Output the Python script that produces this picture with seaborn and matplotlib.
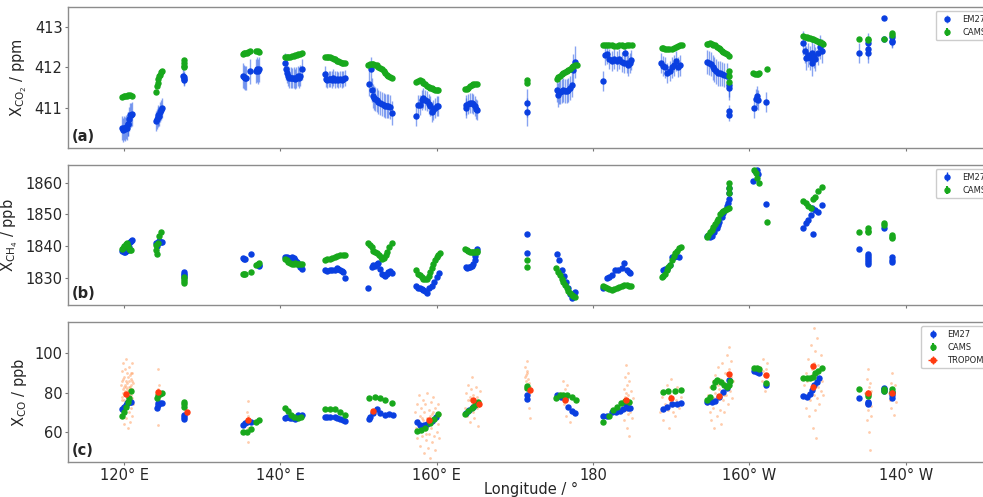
import matplotlib
matplotlib.use('Agg')
import matplotlib.pyplot as plt
import pandas as pd
import seaborn as sns

# ---------------- dati ----------------
# pannello (a) XCO2 [ppm]
co2_em27_lon = [119.75, 119.9, 120.05, 120.13, 120.25, 120.34, 120.45, 120.55, 120.66, 120.77, 120.9, 120.98,
                124.09, 124.18, 124.29, 124.39, 124.5, 124.61, 124.72, 124.84,
                127.6, 127.62, 127.64, 127.65,
                135.18, 135.3, 135.45, 135.6, 136.14, 136.89, 137.0, 137.1, 137.31,
                140.6, 140.7, 140.8, 140.95, 141.1, 141.3, 141.5, 141.7, 141.88, 142.05, 142.2, 142.4, 142.55, 142.73,
                145.7, 145.85, 146.0, 146.2, 146.35, 146.55, 146.75, 146.99, 147.2, 147.4, 147.63, 147.85, 148.05, 148.27,
                151.3, 151.55, 151.68, 151.8, 151.95, 152.11, 152.3, 152.53, 152.75, 152.96, 153.2, 153.39, 153.6, 153.81, 154.05, 154.24,
                157.4, 157.6, 157.86, 158.1, 158.29, 158.5, 158.72, 158.95, 159.14, 159.35, 159.57, 159.8, 160.0, 160.2,
                163.7, 163.8, 164.05, 164.3, 164.5, 164.7, 164.9, 165.0, 165.1,
                171.51, 171.51,
                175.35, 175.5, 175.65, 175.78, 176.0, 176.2, 176.45, 176.63, 176.85, 177.06, 177.3, 177.48, 177.7,
                181.32, 181.55, 181.75, 182.0, 182.38, 182.7, 183.02, 183.3, 183.66, 183.9, 184.1, 184.3, 184.5, 184.7, 184.9,
                188.7, 188.9, 189.2, 189.5, 189.8, 190.06, 190.3, 190.6, 190.85, 191.1,
                194.6, 194.85, 195.1, 195.3, 195.5, 195.75, 196.0, 196.25, 196.5, 196.8, 197.1, 197.35, 197.4, 197.35, 197.35,
                200.55, 200.8, 200.95, 201.1, 202.15,
                206.9, 207.1, 207.3, 207.55, 207.75, 207.95, 208.0, 208.2, 208.45, 208.75, 209.05, 209.3,
                213.99, 215.22, 215.22, 215.22, 217.23, 217.23, 218.25, 218.25, 218.25]
co2_em27_val = [410.48, 410.45, 410.5, 410.47, 410.52, 410.49, 410.58, 410.6, 410.72, 410.81, 410.82, 410.84,
                410.67, 410.72, 410.81, 410.77, 410.78, 410.9, 410.95, 411.0,
                411.8, 411.72, 411.68, 411.76,
                411.8, 411.76, 411.74, 411.73, 411.9, 411.92, 411.95, 411.9, 411.95,
                412.1, 411.95, 411.86, 411.78, 411.75, 411.75, 411.74, 411.75, 411.72, 411.75, 411.78, 411.75, 411.8, 411.95,
                411.83, 411.72, 411.68, 411.72, 411.72, 411.7, 411.75, 411.7, 411.72, 411.68, 411.72, 411.7, 411.72, 411.73,
                411.6, 411.95, 411.45, 411.3, 411.25, 411.22, 411.2, 411.15, 411.12, 411.1, 411.07, 411.05, 411.05, 411.03, 411.02, 410.87,
                410.78, 411.06, 411.06, 411.2, 411.25, 411.2, 411.17, 411.08, 411.05, 410.9, 410.95, 411.0, 411.03, 411.04,
                411.07, 410.98, 411.1, 411.12, 411.12, 411.1, 411.05, 410.97, 410.93,
                411.12, 410.9,
                411.45, 411.32, 411.38, 411.4, 411.42, 411.43, 411.42, 411.42, 411.45, 411.5, 411.57, 411.93, 412.14,
                411.67, 412.31, 412.33, 412.22, 412.17, 412.2, 412.17, 412.2, 412.13, 412.1, 412.35, 412.1, 412.05, 412.1, 412.18,
                412.12, 412.03, 412.0, 411.87, 411.92, 412.0, 412.05, 412.15, 412.02, 412.05,
                412.14, 412.12, 412.08, 412.0, 411.95, 411.9, 411.85, 411.85, 411.83, 411.82, 411.8, 411.56, 411.5, 410.92, 410.82,
                411.0, 411.22, 411.3, 411.2, 411.14,
                412.6, 412.4, 412.23, 412.3, 412.23, 412.35, 412.1, 412.28, 412.2, 412.37, 412.5, 412.4,
                412.37, 412.6, 412.47, 412.37, 413.24, 412.72, 412.75, 412.67, 412.63]
co2_em27_err = [0.3] * 12 + [0.25] * 8 + [0.15] * 4 + [0.3] * 9 + [0.25] * 14 + [0.2] * 14 + [0.3] * 16 \
    + [0.25] * 14 + [0.25] * 9 + [0.35] * 2 + [0.3] * 11 + [0.4] * 2 + [0.25] * 15 + [0.25] * 10 \
    + [0.3] * 13 + [0.15] * 2 + [0.25] * 5 + [0.3] * 12 + [0.25] * 4 + [0.05] * 2 + [0.15] * 3

co2_cams_lon = [119.75, 119.95, 120.15, 120.35, 120.55, 120.77, 120.98,
                124.09, 124.18, 124.29, 124.39, 124.5, 124.61, 124.72, 124.84,
                127.62, 127.63, 127.64, 127.65,
                135.18, 135.35, 135.5, 135.69, 135.9, 136.14, 136.89, 137.1, 137.31,
                140.6, 140.8, 141.0, 141.24, 141.5, 141.7, 141.88, 142.1, 142.3, 142.5, 142.73,
                145.71, 145.9, 146.1, 146.35, 146.6, 146.8, 146.99, 147.2, 147.4, 147.63, 147.85, 148.05, 148.27,
                151.25, 151.5, 151.68, 151.9, 152.11, 152.3, 152.53, 152.75, 152.96, 153.2, 153.39, 153.6, 153.81, 154.05, 154.24,
                157.35, 157.6, 157.86, 158.1, 158.29, 158.5, 158.72, 158.95, 159.14, 159.35, 159.57, 159.8, 160.0, 160.2,
                163.62, 163.85, 164.05, 164.3, 164.5, 164.7, 164.9, 165.1,
                171.51, 171.51,
                175.35, 175.55, 175.78, 176.0, 176.2, 176.45, 176.63, 176.85, 177.06, 177.3, 177.48, 177.7, 177.91,
                181.32, 181.55, 181.75, 182.0, 182.38, 182.7, 183.02, 183.3, 183.66, 183.9, 184.3, 184.6, 184.94,
                188.78, 189.0, 189.2, 189.42, 189.7, 190.06, 190.3, 190.6, 190.85, 191.1, 191.34,
                194.54, 194.75, 194.97, 195.2, 195.39, 195.6, 195.82, 196.05, 196.25, 196.45, 196.67, 196.9, 197.1, 197.35,
                197.44, 197.44, 197.44,
                200.51, 200.7, 200.94, 201.1, 201.28, 202.22,
                206.91, 207.1, 207.33, 207.55, 207.76, 208.0, 208.19, 208.4, 208.61, 208.85, 209.04, 209.25, 209.38,
                213.99, 215.22, 215.22, 217.23, 218.25, 218.25]
co2_cams_val = [411.27, 411.28, 411.3, 411.3, 411.31, 411.31, 411.3,
                411.4, 411.55, 411.62, 411.72, 411.78, 411.82, 411.88, 411.92,
                412.18, 412.1, 412.03, 412.0,
                412.34, 412.35, 412.36, 412.37, 412.38, 412.4, 412.41, 412.4, 412.38,
                412.27, 412.26, 412.26, 412.27, 412.28, 412.29, 412.3, 412.31, 412.33, 412.34, 412.35,
                412.26, 412.27, 412.27, 412.27, 412.24, 412.22, 412.2, 412.17, 412.15, 412.13, 412.12, 412.12, 412.12,
                412.07, 412.08, 412.08, 412.08, 412.07, 412.05, 412.02, 411.99, 411.95, 411.9, 411.86, 411.82, 411.79, 411.76, 411.74,
                411.64, 411.67, 411.68, 411.66, 411.62, 411.58, 411.55, 411.52, 411.5, 411.48, 411.46, 411.45, 411.45, 411.45,
                411.46, 411.47, 411.5, 411.53, 411.56, 411.59, 411.6, 411.58,
                411.68, 411.62,
                411.72, 411.76, 411.8, 411.83, 411.86, 411.89, 411.91, 411.94, 411.97, 412.0, 412.03, 412.05, 412.07,
                412.57, 412.57, 412.56, 412.55, 412.55, 412.53, 412.53, 412.55, 412.55, 412.54, 412.55, 412.56, 412.55,
                412.49, 412.48, 412.47, 412.47, 412.47, 412.47, 412.48, 412.5, 412.53, 412.55, 412.56,
                412.58, 412.59, 412.6, 412.59, 412.57, 412.55, 412.52, 412.49, 412.46, 412.42, 412.39, 412.36, 412.33, 412.29,
                411.92, 411.8, 411.64,
                411.87, 411.84, 411.83, 411.84, 411.86, 411.97,
                412.78, 412.77, 412.76, 412.74, 412.73, 412.71, 412.7, 412.68, 412.66, 412.64, 412.63, 412.6, 412.58,
                412.7, 412.7, 412.68, 412.72, 412.85, 412.8]

# pannello (b) XCH4 [ppb]
ch4_em27_lon = [119.8, 120.0, 120.13, 120.3, 120.45, 120.6, 120.77, 120.9, 121.0,
                124.09, 124.18, 124.39, 124.5, 124.7, 124.82,
                127.63, 127.63, 127.63, 127.63,
                135.18, 135.3, 135.45, 136.2, 137.25, 137.31,
                140.6, 140.8, 141.0, 141.24, 141.5, 141.7, 141.88, 142.1, 142.3, 142.5, 142.73,
                145.71, 146.0, 146.35, 146.6, 146.99, 147.2, 147.4, 147.63, 147.85, 148.05, 148.27,
                151.25, 151.68, 151.9, 152.11, 152.3, 152.53, 152.7, 152.96, 153.2, 153.39, 153.6, 153.81, 154.05, 154.24,
                157.35, 157.6, 157.86, 158.1, 158.29, 158.5, 158.72, 159.06, 159.36, 159.65, 160.0, 160.34,
                163.7, 163.9, 164.1, 164.3, 164.5, 164.7, 164.85, 164.95, 165.05, 165.1,
                171.51, 171.51,
                175.43, 175.69, 175.99, 176.29, 176.54, 176.84, 177.1, 177.27, 177.48, 177.69,
                181.32, 181.75, 182.1, 182.38, 182.81, 183.24, 183.66, 183.96, 184.3, 184.55, 184.73,
                188.91, 189.2, 189.42, 189.8, 190.06, 190.3, 190.62, 191.04,
                194.63, 195.0, 195.2, 195.5, 195.82, 196.0, 196.15, 196.45, 196.67, 196.88, 197.1, 197.3, 197.35, 197.35, 197.35,
                200.51, 200.72, 201.02, 201.15, 202.13,
                206.91, 207.25, 207.55, 207.85, 208.06, 208.1, 208.4, 208.82, 209.25,
                213.99, 215.22, 215.22, 215.22, 215.22, 215.22, 215.22, 217.23, 218.25, 218.25, 218.25]
ch4_em27_val = [1838.6, 1838.3, 1838.3, 1838.5, 1838.8, 1839.7, 1841.2, 1841.7, 1841.8,
                1840.9, 1840.2, 1841.2, 1841.7, 1841.4, 1841.4,
                1832.0, 1831.4, 1830.9, 1830.4,
                1836.2, 1836.0, 1836.1, 1837.4, 1834.1, 1833.8,
                1836.7, 1836.5, 1836.2, 1836.3, 1836.6, 1836.2, 1835.6, 1835.1, 1834.4, 1833.6, 1832.9,
                1832.5, 1832.3, 1832.5, 1832.4, 1832.5, 1833.0, 1832.8, 1832.4, 1832.2, 1831.8, 1829.9,
                1827.0, 1833.6, 1834.0, 1833.9, 1834.3, 1834.6, 1832.8, 1831.2, 1830.8, 1830.6, 1831.2, 1831.8, 1832.2, 1831.7,
                1827.5, 1827.0, 1826.8, 1826.5, 1826.2, 1825.9, 1825.4, 1826.7, 1827.5, 1828.8, 1830.4, 1831.5,
                1833.3, 1833.1, 1833.3, 1833.6, 1833.8, 1834.5, 1835.5, 1837.0, 1838.3, 1839.0,
                1843.8, 1838.0,
                1837.5, 1835.8, 1832.5, 1830.6, 1828.8, 1826.7, 1825.0, 1823.6, 1824.2, 1825.7,
                1827.0, 1829.9, 1830.2, 1830.9, 1832.5, 1832.5, 1833.0, 1834.8, 1832.5, 1832.0, 1831.5,
                1832.5, 1832.7, 1832.7, 1834.0, 1836.7, 1836.5, 1836.9, 1836.5,
                1843.2, 1843.0, 1843.2, 1844.5, 1845.6, 1846.5, 1847.7, 1849.3, 1850.3, 1851.4, 1852.5, 1853.5, 1854.8, 1856.6, 1858.2,
                1860.6, 1863.5, 1864.0, 1862.7, 1853.2,
                1845.6, 1847.2, 1848.3, 1849.8, 1851.9, 1843.8, 1851.4, 1850.6, 1852.8,
                1839.2, 1837.5, 1836.8, 1836.2, 1835.6, 1835.0, 1834.4, 1845.6, 1836.5, 1835.8, 1835.1]

ch4_cams_lon = [119.75, 119.9, 120.05, 120.2, 120.35, 120.5, 120.65, 120.8, 120.95,
                124.09, 124.14, 124.2, 124.3, 124.5, 124.72,
                127.63, 127.63, 127.63, 127.63,
                135.18, 135.35, 135.52, 136.2, 136.89, 137.1, 137.31,
                140.6, 140.8, 141.0, 141.24, 141.5, 141.7, 141.88, 142.1, 142.3, 142.5, 142.73,
                145.71, 146.0, 146.35, 146.6, 146.99, 147.3, 147.63, 147.95, 148.27,
                151.25, 151.45, 151.68, 151.9, 152.11, 152.4, 152.6, 152.85, 153.05, 153.25, 153.45, 153.7, 153.95, 154.24,
                157.35, 157.6, 157.86, 158.1, 158.29, 158.5, 158.72, 158.95, 159.14, 159.35, 159.57, 159.8, 160.0, 160.2, 160.42,
                163.62, 163.85, 164.05, 164.3, 164.5, 164.7, 164.9, 165.1, 165.2,
                171.51, 171.51,
                175.3, 175.5, 175.78, 176.0, 176.2, 176.45, 176.63, 176.85, 177.06, 177.3, 177.48, 177.7,
                181.28, 181.5, 181.75, 182.0, 182.38, 182.7, 183.02, 183.3, 183.66, 183.95, 184.3, 184.6, 184.85,
                188.78, 189.0, 189.2, 189.42, 189.6, 189.85, 190.06, 190.3, 190.5, 190.75, 191.0, 191.2,
                194.54, 194.75, 194.97, 195.2, 195.39, 195.6, 195.82, 196.0, 196.25, 196.45, 196.67, 196.9, 197.1,
                197.4, 197.4, 197.4, 197.4,
                200.6, 200.85, 201.02, 201.25, 202.22,
                206.91, 207.25, 207.55, 207.85, 208.1, 208.4, 208.82, 209.25,
                213.99, 215.22, 215.22, 215.22, 217.23, 217.23, 218.25, 218.25, 218.25]
ch4_cams_val = [1839.0, 1839.3, 1840.0, 1840.6, 1841.0, 1840.0, 1839.2, 1838.9, 1838.8,
                1840.4, 1838.8, 1837.5, 1841.0, 1843.2, 1844.3,
                1830.4, 1829.8, 1829.1, 1828.5,
                1831.1, 1831.3, 1831.4, 1831.8, 1834.1, 1834.4, 1834.6,
                1835.9, 1835.5, 1835.0, 1834.7, 1834.4, 1834.5, 1834.7, 1834.5, 1834.4, 1834.4, 1834.5,
                1835.7, 1835.9, 1835.9, 1836.3, 1836.7, 1837.0, 1837.1, 1837.2, 1837.2,
                1841.1, 1840.3, 1839.6, 1838.6, 1838.3, 1837.8, 1837.2, 1836.7, 1836.0, 1836.3, 1837.2, 1838.3, 1839.8, 1841.1,
                1832.5, 1831.4, 1830.9, 1830.2, 1829.8, 1829.6, 1829.6, 1830.5, 1831.8, 1833.2, 1834.5, 1835.7, 1836.6, 1837.3, 1837.8,
                1839.0, 1838.7, 1838.6, 1838.3, 1838.1, 1838.1, 1838.1, 1838.3, 1838.6,
                1835.7, 1833.6,
                1833.0, 1832.0, 1830.9, 1829.6, 1828.8, 1827.8, 1826.7, 1825.8, 1825.3, 1824.6, 1824.2, 1824.1,
                1827.5, 1827.2, 1826.8, 1826.5, 1826.3, 1826.5, 1826.8, 1827.2, 1827.5, 1827.7, 1827.8, 1827.6, 1827.5,
                1830.4, 1830.6, 1831.4, 1832.4, 1833.4, 1834.1, 1835.5, 1837.0, 1837.8, 1838.6, 1839.3, 1839.6,
                1843.0, 1843.6, 1844.3, 1845.2, 1846.1, 1847.0, 1847.9, 1848.6, 1850.0, 1850.6, 1851.2, 1851.5, 1851.7,
                1852.0, 1856.6, 1858.2, 1859.8,
                1864.0, 1862.9, 1861.4, 1859.8, 1847.5,
                1854.3, 1853.5, 1852.7, 1851.9, 1854.8, 1855.4, 1857.2, 1858.5,
                1844.3, 1845.6, 1844.9, 1844.3, 1847.2, 1846.7, 1843.5, 1843.0, 1842.5]

# pannello (c) XCO [ppb]
co_em27_lon = [119.8, 119.97, 120.19, 120.35, 120.55, 120.72, 120.89,
               124.18, 124.3, 124.39, 124.6, 124.82,
               127.63, 127.63, 127.63,
               135.26, 135.5, 135.69, 136.2,
               140.65, 140.9, 141.24, 141.5, 141.88, 142.3, 142.73,
               145.71, 146.0, 146.35, 146.99, 147.3, 147.63, 147.95, 148.27,
               151.38, 151.5, 151.81, 152.32, 152.75, 153.39, 153.94, 154.37,
               157.44, 157.86, 158.37, 158.8, 159.36, 159.91,
               163.75, 164.17, 164.6, 165.03,
               171.51, 171.51,
               175.43, 175.86, 176.41, 176.84, 177.27, 177.7,
               181.32, 181.83, 182.38, 182.94, 183.45, 183.87, 184.22, 184.51, 184.73,
               188.91, 189.42, 190.06, 190.7, 191.21,
               194.63, 195.18, 195.6, 196.16, 196.67, 197.1, 197.44,
               200.6, 200.94, 201.28, 202.13,
               206.91, 207.33, 207.76, 207.97, 208.27, 208.61, 208.95,
               213.99, 215.22, 215.22, 215.22, 217.23, 217.23, 217.23, 218.25, 218.25, 218.25]
co_em27_val = [71.6, 72.5, 73.6, 74.5, 75.0, 75.0, 75.0,
               72.3, 73.5, 74.5, 74.5, 74.6,
               68.5, 67.7, 66.8,
               63.7, 64.3, 64.8, 65.1,
               67.3, 67.5, 67.3, 67.0, 66.5, 68.5, 68.8,
               67.7, 67.8, 67.7, 67.7, 67.0, 66.5, 66.0, 65.4,
               66.8, 67.8, 69.4, 71.6, 69.4, 68.5, 68.9, 68.5,
               64.8, 63.4, 63.4, 64.2, 65.4, 67.7,
               69.4, 71.1, 72.8, 74.5,
               78.7, 76.7,
               78.7, 77.9, 76.7, 72.8, 70.6, 69.4,
               68.2, 68.2, 69.9, 70.2, 70.5, 71.9, 74.0, 72.3, 72.0,
               71.6, 72.8, 74.0, 74.0, 74.5,
               75.0, 75.0, 75.7, 77.9, 80.1, 82.5, 86.4,
               91.0, 90.3, 89.8, 83.8,
               78.4, 77.9, 79.1, 81.3, 83.8, 85.5, 87.6,
               77.4, 75.3, 74.6, 74.0, 82.5, 81.6, 80.8, 80.4, 79.0, 77.0]

co_cams_lon = [119.8, 120.0, 120.23, 120.45, 120.66, 120.89,
               124.18, 124.39, 124.6, 124.86,
               127.63, 127.63, 127.63,
               135.26, 135.69, 136.2, 136.89, 137.31,
               140.65, 140.95, 141.37, 141.8, 142.22, 142.65,
               145.71, 146.35, 146.99, 147.63, 148.27,
               151.38, 152.11, 152.75, 153.39, 154.24,
               157.44, 158.0, 158.55, 159.14, 159.65, 160.21,
               163.62, 164.05, 164.47, 164.9, 165.33,
               171.51, 171.51,
               175.26, 175.78, 176.2, 176.71, 177.27, 177.82,
               181.32, 182.0, 182.51, 183.02, 183.53, 184.09, 184.64,
               188.91, 189.64, 190.49, 191.21,
               194.54, 194.97, 195.3, 195.6, 195.9, 196.33, 196.76, 197.1, 197.44, 197.52,
               200.6, 201.02, 201.28, 202.13,
               206.91, 207.33, 207.76, 208.1, 208.4, 208.82, 209.25,
               213.99, 215.22, 215.22, 217.23, 217.23, 218.25, 218.25]
co_cams_val = [68.2, 70.2, 72.8, 75.3, 77.4, 80.8,
               77.0, 78.7, 79.4, 79.6,
               75.3, 74.0, 72.8,
               59.7, 60.0, 61.5, 64.8, 66.0,
               72.3, 70.6, 68.5, 67.5, 67.0, 67.5,
               71.9, 71.9, 71.7, 69.9, 68.5,
               77.0, 77.7, 77.4, 76.2, 74.5,
               60.3, 60.9, 62.0, 64.3, 66.8, 68.9,
               69.0, 70.6, 72.3, 73.6, 75.0,
               83.5, 82.1,
               77.4, 78.7, 79.0, 78.7, 77.9, 76.2,
               65.1, 68.2, 71.1, 72.8, 74.5, 75.7, 75.0,
               80.1, 80.8, 80.9, 81.1,
               76.2, 77.9, 83.0, 85.5, 86.4, 85.5, 83.8, 83.0, 83.8, 85.9,
               92.3, 92.3, 92.0, 84.7,
               87.2, 87.6, 87.6, 88.1, 89.8, 91.0, 92.3,
               81.8, 79.1, 78.4, 81.8, 80.8, 82.0, 80.5]

tropomi_lon = [120.23, 124.39, 128.1, 135.82, 151.9, 159.06, 164.68, 165.37, 171.94, 176.46,
               184.22, 190.0, 196.16, 197.44, 202.13, 208.1, 208.19, 215.22, 218.25]
tropomi_val = [79.1, 80.4, 69.9, 66.3, 70.7, 65.8, 76.0, 74.0, 81.3, 76.2,
               76.2, 77.4, 78.2, 89.3, 88.9, 83.0, 93.5, 79.9, 79.9]

# singoli pixel TROPOMI (nuvole arancioni)
pixel_lon = [119.62, 119.68, 119.71, 119.75, 119.78, 119.82, 119.85, 119.88, 119.92, 119.95, 119.98, 120.02, 120.05,
             120.08, 120.1, 120.13, 120.16, 120.19, 120.22, 120.25, 120.27, 120.3, 120.33, 120.36, 120.39, 120.42,
             120.45, 120.48, 120.51, 120.54, 120.57, 120.6, 120.63, 120.66, 120.69, 120.72, 120.75, 120.78, 120.81,
             120.84, 120.87, 120.9, 120.93, 120.96, 120.99, 121.02, 121.05, 121.08, 121.11, 121.14, 119.9, 120.0,
             120.2, 120.4, 120.5, 120.7, 120.85, 121.0, 119.8, 120.35,
             124.35, 124.4, 124.45, 124.38, 124.5, 124.3,
             135.8, 135.85, 135.75, 135.9, 135.8,
             157.25, 157.35, 157.45, 157.5, 157.6, 157.7, 157.75, 157.85, 157.9, 158.0, 158.05, 158.15, 158.2,
             158.3, 158.35, 158.4, 158.5, 158.55, 158.6, 158.7, 158.75, 158.85, 158.9, 159.0, 159.05, 159.1,
             159.2, 159.25, 159.3, 159.4, 159.45, 159.5, 159.6, 159.65, 159.75, 159.8, 159.9, 160.0, 160.1,
             160.2, 160.3, 160.4, 158.1, 158.65, 159.15, 159.55,
             163.65, 163.75, 163.85, 163.95, 164.0, 164.1, 164.2, 164.3, 164.35, 164.45, 164.55, 164.6, 164.7,
             164.8, 164.9, 165.0, 165.1, 165.2, 165.3, 165.4, 165.5, 164.25, 164.75,
             171.25, 171.3, 171.35, 171.4, 171.45, 171.5, 171.55, 171.6, 171.65, 171.7, 171.75, 171.8, 171.85,
             171.9, 171.95, 171.4, 171.6, 171.7,
             175.9, 176.1, 176.25, 176.4, 176.5, 176.6, 176.8, 177.0, 176.3, 176.7,
             183.85, 183.9, 184.0, 184.05, 184.1, 184.15, 184.2, 184.25, 184.3, 184.35, 184.4, 184.45, 184.5,
             184.55, 184.6, 184.65, 184.7, 184.8, 184.9, 185.0, 185.1, 184.28, 184.48,
             188.6, 188.8, 189.0, 189.2, 189.4, 189.55, 189.7, 189.85, 190.0, 190.1, 190.3, 190.45, 190.6,
             190.8, 191.0, 191.2, 189.9, 190.2,
             194.6, 194.75, 194.9, 195.0, 195.1, 195.2, 195.3, 195.4, 195.5, 195.55, 195.65, 195.75, 195.85,
             195.95, 196.0, 196.1, 196.2, 196.3, 196.35, 196.45, 196.55, 196.6, 196.7, 196.8, 196.9, 197.0,
             197.1, 197.2, 197.25, 197.35, 197.45, 197.5, 197.6, 197.7, 197.8, 197.9, 196.15, 196.75, 197.3, 195.45,
             201.4, 201.6, 201.8, 201.9, 202.0, 202.1, 202.2, 202.3, 202.4, 202.05, 201.7,
             207.0, 207.1, 207.2, 207.3, 207.4, 207.5, 207.55, 207.65, 207.75, 207.8, 207.9, 208.0, 208.05,
             208.1, 208.15, 208.2, 208.25, 208.3, 208.35, 208.4, 208.45, 208.5, 208.55, 208.6, 208.7, 208.75,
             208.8, 208.9, 209.0, 209.1, 209.2, 209.3, 209.4, 208.0, 208.25, 208.6,
             214.85, 214.95, 215.0, 215.05, 215.1, 215.15, 215.2, 215.25, 215.3, 215.35, 215.4, 215.45, 215.5,
             215.55, 215.6, 215.3,
             217.85, 217.95, 218.05, 218.1, 218.2, 218.3, 218.35, 218.45, 218.5, 218.6, 218.7, 218.15, 218.4]
pixel_val = [84, 78, 91, 73, 86, 80, 95, 69, 82, 76, 88, 64, 79,
             84, 92, 71, 81, 86, 75, 97, 83, 67, 79, 90, 77, 85,
             62, 81, 88, 74, 83, 93, 78, 70, 86, 80, 89, 65, 76,
             84, 72, 87, 79, 95, 68, 82, 77, 90, 74, 85, 87, 83,
             80, 82, 78, 83, 90, 86, 76, 74,
             91.8, 82, 78, 63.4, 84, 80.5,
             75.7, 54.6, 70, 62, 68,
             70, 62, 74, 57, 66, 79, 60, 68, 53, 72, 64, 58, 76,
             66, 49, 70, 61, 74, 56, 67, 80, 63, 52, 71, 59, 68,
             46.5, 75, 62, 55, 69, 78, 58, 65, 72, 51, 67, 60, 74,
             64, 57, 69, 67, 59, 64, 70,
             72, 80, 68, 76, 84, 71, 78, 65, 82, 74, 88, 70, 79,
             67, 76, 83, 72, 78, 63, 74, 81, 76, 73,
             88, 82, 93, 79, 86, 96, 84, 90, 77, 87, 72, 85, 80,
             67, 83, 89, 91, 81,
             80, 86, 74, 82, 68, 78, 73, 65, 77, 84,
             73, 82, 66, 78, 88, 71, 80, 94, 62, 76, 84, 69, 79,
             58, 74, 86, 70, 81, 75, 67, 77, 72, 90,
             70, 78, 66, 74, 84, 71, 62, 79, 87, 73, 81, 68, 76,
             83, 72, 78, 75, 70,
             74, 79, 70, 83, 66, 77, 86, 72, 62, 80, 89, 75, 68,
             84, 93, 78, 71, 87, 64, 81, 95, 76, 85, 70, 90, 79,
             99, 84, 74, 92, 103, 81, 88, 96, 77, 86, 82, 79, 87, 77,
             93, 86, 97, 89, 83, 92, 88, 95, 85, 81, 91,
             84, 78, 90, 72, 86, 97, 80, 68, 88, 76, 104, 83, 92,
             62, 87, 113, 79, 95, 71, 101, 85, 57, 90, 77, 108, 83,
             94, 74, 88, 81, 99, 86, 79, 89, 84, 86,
             80, 74, 87, 66, 78, 92, 71, 83, 60, 76, 85, 50.6, 73,
             81, 68, 79,
             80, 76, 85, 72, 82, 89.8, 77, 68.5, 80, 84, 75, 79, 81]

ch4_err = 0.3
co_err = 0.4
tropomi_err = 1.2

tick_pos = [120, 140, 160, 180, 200, 220]
tick_lab = ['120° E', '140° E', '160° E', '180', '160° W', '140° W']

# ---------------- grafico ----------------
sns.set_style('ticks')
plt.rcParams['font.family'] = ['DejaVu Sans']
plt.rcParams['mathtext.default'] = 'regular'

blu = '#0a3fe0'
verde = '#18a81c'
rosso = '#ff3b10'
arancio = '#ff9a5a'
fs = 10.5

fig = plt.figure(figsize=(9.83, 4.97), dpi=100)
ax1 = fig.add_axes([0.0695, 0.7028, 0.9417, 0.2825])
ax2 = fig.add_axes([0.0695, 0.3863, 0.9417, 0.2817])
ax3 = fig.add_axes([0.0695, 0.0698, 0.9417, 0.2817])

# (a) CO2
ax1.errorbar(co2_em27_lon, co2_em27_val, yerr=co2_em27_err, fmt='o', ms=3.6, color=blu,
             ecolor=(0.15, 0.35, 0.9, 0.55), elinewidth=1, label='EM27', zorder=2)
ax1.errorbar(co2_cams_lon, co2_cams_val, yerr=[0.0] * len(co2_cams_val), fmt='o', ms=3.6, color=verde,
             label='CAMS', zorder=3)

# (b) CH4
ax2.errorbar(ch4_em27_lon, ch4_em27_val, yerr=ch4_err, fmt='o', ms=3.6, color=blu, elinewidth=1,
             label='EM27', zorder=2)
ax2.errorbar(ch4_cams_lon, ch4_cams_val, yerr=0.0, fmt='o', ms=3.6, color=verde, label='CAMS', zorder=3)

# (c) CO
df_pixel = pd.DataFrame({'lon': pixel_lon, 'xco': pixel_val})
sns.scatterplot(data=df_pixel, x='lon', y='xco', s=4, color=arancio, alpha=0.5, linewidth=0,
                legend=False, ax=ax3, zorder=1)
ax3.errorbar(co_em27_lon, co_em27_val, yerr=co_err, fmt='o', ms=3.6, color=blu, elinewidth=1,
             label='EM27', zorder=2)
ax3.errorbar(co_cams_lon, co_cams_val, yerr=0.0, fmt='o', ms=3.6, color=verde, label='CAMS', zorder=3)
ax3.errorbar(tropomi_lon, tropomi_val, yerr=tropomi_err, xerr=0.15, fmt='o', ms=3.6, color=rosso,
             elinewidth=1, label='TROPOMI', zorder=4)

limiti = [(410.0, 413.5), (1821.5, 1865.5), (44.5, 115.8)]
yticks = [[411, 412, 413], [1830, 1840, 1850, 1860], [60, 80, 100]]
ylabels = ['X$_{CO_2}$ / ppm', 'X$_{CH_4}$ / ppb', 'X$_{CO}$ / ppb']
lettere = ['(a)', '(b)', '(c)']

for ax, lim, yt, yl, lt in zip([ax1, ax2, ax3], limiti, yticks, ylabels, lettere):
    ax.set_xlim(112.87, 231.29)
    ax.set_ylim(*lim)
    ax.set_yticks(yt)
    ax.set_xticks(tick_pos)
    ax.set_ylabel(yl, fontsize=fs, labelpad=4)
    ax.set_xlabel('')
    ax.tick_params(labelsize=fs, length=2.2, pad=2, color='#777777')
    for sp in ax.spines.values():
        sp.set_visible(True)
        sp.set_color('#8c8c8c')
        sp.set_linewidth(1)
    ax.text(0.004, 0.05, lt, transform=ax.transAxes, fontsize=fs, fontweight='bold')
    ax.legend(loc='upper right', fontsize=6, framealpha=1, edgecolor='#cccccc')

ax1.set_xticklabels([])
ax2.set_xticklabels([])
ax3.set_xticklabels(tick_lab)
ax3.set_xlabel('Longitude / °', fontsize=fs, labelpad=-0.5)

fig.savefig('out.png', dpi=100)
